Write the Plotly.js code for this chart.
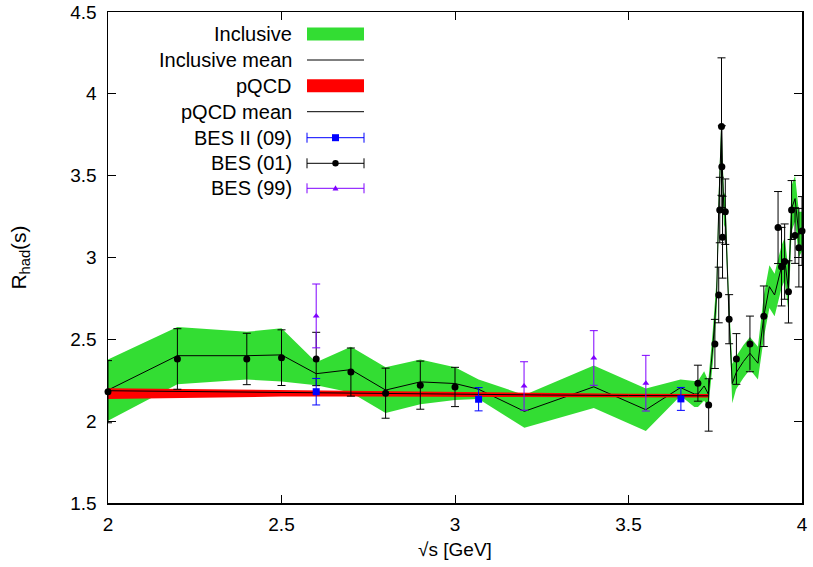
<!DOCTYPE html>
<html>
<head>
<meta charset="utf-8">
<script src="https://cdn.plot.ly/plotly-3.0.1.min.js"></script>
<style>html,body{margin:0;padding:0;background:#fff;}#chart{width:813px;height:567px;}</style>
</head>
<body>
<div id="chart"></div>
<script>
// ---- Inclusive band (mean and half-width) ----
const incX = [2.0, 2.2, 2.4, 2.5, 2.6, 2.7, 2.8, 2.9, 3.0, 3.068, 3.2, 3.4, 3.55, 3.65, 3.69, 3.70, 3.718, 3.73, 3.743, 3.754, 3.76, 3.768, 3.771, 3.775, 3.779, 3.79, 3.799, 3.81, 3.831, 3.85, 3.873, 3.89, 3.906, 3.921, 3.941, 3.95, 3.961, 3.97, 3.98, 3.991, 4.0];
const incMean = [2.19, 2.40, 2.40, 2.405, 2.29, 2.315, 2.19, 2.24, 2.23, 2.195, 2.06, 2.21, 2.07, 2.205, 2.166, 2.166, 2.215, 2.166, 2.455, 2.77, 3.30, 3.79, 3.51, 3.30, 3.28, 2.62, 2.23, 2.295, 2.364, 2.415, 2.354, 2.64, 2.822, 2.771, 2.944, 2.99, 2.80, 3.30, 3.36, 3.14, 3.16];
const incHalf = [0.187, 0.175, 0.146, 0.162, 0.07, 0.14, 0.14, 0.137, 0.10, 0.06, 0.10, 0.13, 0.13, 0.05, 0.08, 0.08, 0.09, 0.08, 0.10, 0.10, 0.10, 0.08, 0.10, 0.10, 0.10, 0.10, 0.12, 0.10, 0.10, 0.10, 0.10, 0.13, 0.13, 0.13, 0.13, 0.13, 0.13, 0.14, 0.14, 0.14, 0.12];

// ---- pQCD band ----
const pqcdX = [2.0, 2.25, 2.5, 2.75, 3.0, 3.25, 3.5, 3.73];
const pqcdMean = [2.186, 2.180, 2.175, 2.170, 2.164, 2.160, 2.157, 2.155];
const pqcdLow = [2.136, 2.145, 2.150, 2.150, 2.148, 2.146, 2.145, 2.144];
const pqcdHigh = [2.201, 2.195, 2.188, 2.183, 2.176, 2.172, 2.168, 2.166];

// ---- BES II (09) ----
const bes09X = [2.6, 3.068, 3.651];
const bes09Y = [2.18, 2.134, 2.136];
const bes09Err = [0.081, 0.071, 0.07];

// ---- BES (01) ----
const bes01X = [2.0, 2.2, 2.4, 2.5, 2.6, 2.7, 2.8, 2.9, 3.0, 3.700, 3.731, 3.749, 3.760, 3.763, 3.768, 3.769, 3.771, 3.779, 3.790, 3.811, 3.850, 3.890, 3.931, 3.941, 3.950, 3.961, 3.970, 3.980, 3.991, 4.0];
const bes01Y = [2.18, 2.38, 2.38, 2.388, 2.38, 2.30, 2.171, 2.22, 2.209, 2.232, 2.099, 2.472, 2.771, 3.29, 3.80, 3.555, 3.124, 3.28, 2.623, 2.38, 2.472, 2.641, 3.183, 2.944, 2.975, 2.79, 3.29, 3.134, 3.06, 3.162];
const bes01Err = [0.19, 0.185, 0.157, 0.17, 0.163, 0.147, 0.153, 0.147, 0.12, 0.11, 0.16, 0.15, 0.17, 0.2, 0.42, 0.25, 0.25, 0.2, 0.15, 0.155, 0.17, 0.185, 0.22, 0.24, 0.23, 0.19, 0.18, 0.17, 0.24, 0.21];

// ---- BES (99) ----
const bes99X = [2.6, 3.199, 3.40, 3.55];
const bes99Y = [2.643, 2.215, 2.386, 2.232];
const bes99Err = [0.195, 0.148, 0.167, 0.17];

// ---- axis ticks ----
const xTicks = [2, 2.5, 3, 3.5, 4];
const xTickText = ['2', '2.5', '3', '3.5', '4'];
const yTicks = [1.5, 2, 2.5, 3, 3.5, 4, 4.5];
const yTickText = ['1.5', '2', '2.5', '3', '3.5', '4', '4.5'];

// ---- legend ----
const legendLabels = ['Inclusive', 'Inclusive mean', 'pQCD', 'pQCD mean', 'BES II (09)', 'BES (01)', 'BES (99)'];

const GREEN = '#33dd33', RED = '#ff0000', BLUE = '#0000ff', PURPLE = '#7f00ff';
const FONT = 'Liberation Sans, Arial, Helvetica, sans-serif';

const incLow = incX.map((_, i) => incMean[i] - incHalf[i]);
const incHigh = incX.map((_, i) => incMean[i] + incHalf[i]);

const traces = [
  {x: incX, y: incLow, mode: 'lines', line: {width: 0, color: GREEN}, showlegend: false, hoverinfo: 'skip', name: 'Inclusive low'},
  {x: incX, y: incHigh, mode: 'lines', line: {width: 0, color: GREEN}, fill: 'tonexty', fillcolor: GREEN, showlegend: false, name: 'Inclusive'},
  {x: incX, y: incMean, mode: 'lines', line: {width: 1, color: '#000'}, showlegend: false, name: 'Inclusive mean'},
  {x: pqcdX, y: pqcdLow, mode: 'lines', line: {width: 0, color: RED}, showlegend: false, hoverinfo: 'skip', name: 'pQCD low'},
  {x: pqcdX, y: pqcdHigh, mode: 'lines', line: {width: 0, color: RED}, fill: 'tonexty', fillcolor: RED, showlegend: false, name: 'pQCD'},
  {x: pqcdX, y: pqcdMean, mode: 'lines', line: {width: 1, color: '#000'}, showlegend: false, name: 'pQCD mean'},
  {x: bes01X, y: bes01Y, mode: 'markers', name: 'BES (01)', showlegend: false, cliponaxis: false,
   marker: {symbol: 'circle', size: 7, color: '#000'},
   error_y: {type: 'data', array: bes01Err, visible: true, color: '#000', thickness: 1, width: 4}},
  {x: bes09X, y: bes09Y, mode: 'markers', name: 'BES II (09)', showlegend: false, cliponaxis: false,
   marker: {symbol: 'square', size: 7, color: BLUE},
   error_y: {type: 'data', array: bes09Err, visible: true, color: BLUE, thickness: 1, width: 4}},
  {x: bes99X, y: bes99Y, mode: 'markers', name: 'BES (99)', showlegend: false, cliponaxis: false,
   marker: {symbol: 'triangle-up', size: 6, color: PURPLE},
   error_y: {type: 'data', array: bes99Err, visible: true, color: PURPLE, thickness: 1, width: 4}}
];

// legend layout helpers (pixel -> paper)
const L = 108, R = 802, T = 12, B = 503;
const PX = p => (p - L) / (R - L);
const PY = p => (B - p) / (B - T);
const rowY = [34, 60, 85.7, 111.7, 137.7, 163.3, 188.3];
const sx0 = 307, sx1 = 364, smid = 335.5, textRight = 294;

const annotations = legendLabels.map((t, i) => ({
  xref: 'paper', yref: 'paper', x: PX(textRight), y: PY(rowY[i]), xanchor: 'right', yanchor: 'middle',
  text: t, showarrow: false, font: {family: FONT, size: 20, color: '#000'}
}));

const shapes = [];
const sh = o => shapes.push(Object.assign({xref: 'paper', yref: 'paper', layer: 'above'}, o));
// Inclusive band sample
sh({type: 'rect', x0: PX(sx0), x1: PX(sx1), y0: PY(rowY[0] - 6.5), y1: PY(rowY[0] + 6.5), fillcolor: GREEN, line: {width: 0}});
sh({type: 'line', x0: PX(sx0), x1: PX(sx1), y0: PY(rowY[1]), y1: PY(rowY[1]), line: {color: '#000', width: 1}});
sh({type: 'rect', x0: PX(sx0), x1: PX(sx1), y0: PY(rowY[2] - 6.5), y1: PY(rowY[2] + 6.5), fillcolor: RED, line: {width: 0}});
sh({type: 'line', x0: PX(sx0), x1: PX(sx1), y0: PY(rowY[3]), y1: PY(rowY[3]), line: {color: '#000', width: 1}});
// error-bar samples
[[4, BLUE], [5, '#000'], [6, PURPLE]].forEach(([i, c]) => {
  const y = rowY[i];
  sh({type: 'line', x0: PX(sx0), x1: PX(sx1), y0: PY(y), y1: PY(y), line: {color: c, width: 1}});
  sh({type: 'line', x0: PX(sx0), x1: PX(sx0), y0: PY(y - 5), y1: PY(y + 5), line: {color: c, width: 1}});
  sh({type: 'line', x0: PX(sx1), x1: PX(sx1), y0: PY(y - 5), y1: PY(y + 5), line: {color: c, width: 1}});
});
sh({type: 'rect', x0: PX(smid - 3.5), x1: PX(smid + 3.5), y0: PY(rowY[4] - 3.5), y1: PY(rowY[4] + 3.5), fillcolor: BLUE, line: {width: 0}});
sh({type: 'circle', x0: PX(smid - 3.2), x1: PX(smid + 3.2), y0: PY(rowY[5] - 3.2), y1: PY(rowY[5] + 3.2), fillcolor: '#000', line: {width: 0}});
sh({type: 'path', path: 'M ' + PX(smid - 3) + ' ' + PY(rowY[6] + 2.2) + ' L ' + PX(smid + 3) + ' ' + PY(rowY[6] + 2.2) + ' L ' + PX(smid) + ' ' + PY(rowY[6] - 3) + ' Z', fillcolor: PURPLE, line: {width: 0}});

const axisCommon = {
  showline: true, linecolor: '#000', linewidth: 1.5, mirror: 'ticks',
  ticks: 'inside', ticklen: 8, tickwidth: 1, tickcolor: '#000',
  showgrid: false, zeroline: false,
  tickfont: {family: FONT, size: 19, color: '#000'}
};

const layout = {
  width: 813, height: 567,
  margin: {l: L, r: 813 - R, t: T, b: 567 - B},
  paper_bgcolor: '#fff', plot_bgcolor: '#fff',
  showlegend: false,
  font: {family: FONT, color: '#000'},
  xaxis: Object.assign({}, axisCommon, {
    range: [2, 4], tickmode: 'array', tickvals: xTicks, ticktext: xTickText,
    ticklabelstandoff: 4,
    title: {text: '√s [GeV]', font: {family: FONT, size: 19, color: '#000'}, standoff: 8}
  }),
  yaxis: Object.assign({}, axisCommon, {
    range: [1.5, 4.5], tickmode: 'array', tickvals: yTicks, ticktext: yTickText,
    ticklabelstandoff: 6,
    title: {text: 'R<sub>had</sub>(s)', font: {family: FONT, size: 21, color: '#000'}, standoff: 38}
  }),
  annotations: annotations,
  shapes: shapes
};

Plotly.newPlot('chart', traces, layout, {staticPlot: true, displayModeBar: false});
</script>
</body>
</html>
